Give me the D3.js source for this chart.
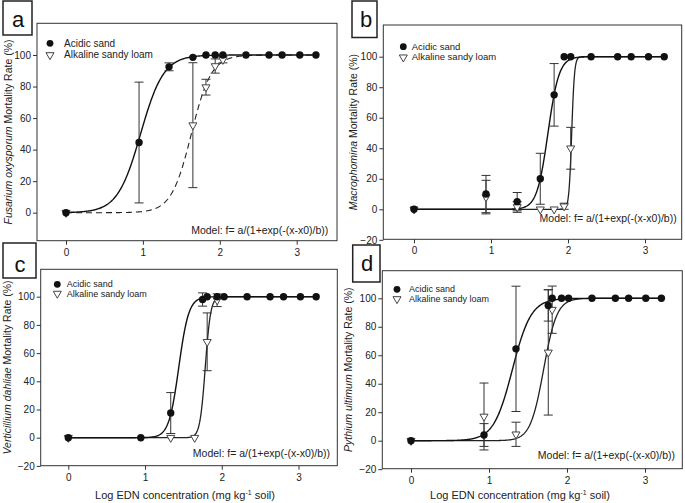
<!DOCTYPE html>
<html><head><meta charset="utf-8">
<script src="https://cdn.jsdelivr.net/npm/d3@7"></script>
<style>body{margin:0;background:#fff}svg{display:block}</style>
</head><body><svg id="chart" width="685" height="503"></svg>
<script>
// ---------- DATA ----------
const xTickValues = [0, 1, 2, 3];
const yTicksA = [0, 20, 40, 60, 80, 100];
const yTicksBCD = [-20, 0, 20, 40, 60, 80, 100];
const seriesNames = ["Acidic sand", "Alkaline sandy loam"];
const modelText = "Model: f= a/(1+exp(-(x-x0)/b))";

// Panel a – Fusarium oxysporum
const aAcidX = [0, 0.95, 1.34, 1.65, 1.82, 1.94, 2.04, 2.34, 2.64, 2.81, 3.04, 3.25];
const aAcidY = [0, 44.5, 92.5, 98.5, 100, 100, 100, 100, 100, 100, 100, 100];
const aAcidE = [0, 38.3, 2.5, 0, 0, 0, 0, 0, 0, 0, 0, 0];
const aAlkX = [0, 1.65, 1.82, 1.94, 2.04];
const aAlkY = [0, 55.5, 79.6, 93, 97];
const aAlkE = [0, 39.6, 5, 4.5, 2];
const aFitAcid = [100, 0.97, 0.15];   // a, x0, b
const aFitAlk = [100, 1.63, 0.13];

// Panel b – Macrophomina
const bAcidX = [0, 0.935, 1.34, 1.64, 1.82, 1.95, 2.035, 2.3, 2.645, 2.82, 3.045, 3.25];
const bAcidY = [0, 10, 5, 20, 75, 100, 100, 100, 100, 100, 100, 100];
const bAcidE = [0, 12.2, 6, 16.7, 20.5, 0, 0, 0, 0, 0, 0, 0];
const bAlkX = [0, 0.935, 1.34, 1.64, 1.82, 1.95, 2.035];
const bAlkY = [0, 8, 1.5, 0, 0, 2, 40];
const bAlkE = [0, 11, 3.5, 0, 0, 2, 13.7];
const bFitAcid = [100, 1.74, 0.072];
const bFitAlk = [100, 2.048, 0.018];

// Panel c – Verticillium dahliae
const cAcidX = [0, 0.945, 1.335, 1.75, 1.81, 1.94, 2.03, 2.33, 2.63, 2.805, 3.025, 3.23];
const cAcidY = [0, 0, 17.5, 98, 100, 100, 100, 100, 100, 100, 100, 100];
const cAcidE = [0, 0, 14.5, 4.7, 0, 0, 0, 0, 0, 0, 0, 0];
const cAlkX = [0, 1.335, 1.647, 1.81, 1.94];
const cAlkY = [0, 0, 0, 68, 97.5];
const cAlkE = [0, 0, 0, 20.5, 4.5];
const cFitAcid = [100, 1.44, 0.065];
const cFitAlk = [100, 1.785, 0.035];

// Panel d – Pythium ultimum
const dAcidX = [0, 0.936, 1.346, 1.76, 1.81, 1.93, 2.02, 2.32, 2.62, 2.79, 3.01, 3.21];
const dAcidY = [0, 4, 64.5, 95, 100, 100, 100, 100, 100, 100, 100, 100];
const dAcidE = [0, 8, 44, 11, 0, 0, 0, 0, 0, 0, 0, 0];
const dAlkX = [0, 0.936, 1.346, 1.76, 1.81];
const dAlkY = [0, 17, 4.5, 62, 92];
const dAlkE = [0, 23.5, 8.5, 44, 16.6];
const dFitAcid = [100, 1.30, 0.12];
const dFitAlk = [100, 1.70, 0.085];

// ---------- LAYOUT ----------
const panels = [
  {letter: "a", italic: "Fusarium oxysporum", acid: [aAcidX, aAcidY, aAcidE], alk: [aAlkX, aAlkY, aAlkE],
   fitAcid: aFitAcid, fitAlk: aFitAlk, dashedAlk: true, yTicks: yTicksA,
   frame: [37, 23.3, 337, 240.7], xr: [66, 296.7], yr: [212.7, 55],
   box: [3, 1, 29, 34], letterXY: [18, 27], leg: {cx: 50, tx: 64, y1: 43.3, y2: 55, fs: 10},
   model: [328.3, 234], titleX: 12, xTitle: null},
  {letter: "b", italic: "Macrophomina", acid: [bAcidX, bAcidY, bAcidE], alk: [bAlkX, bAlkY, bAlkE],
   fitAcid: bFitAcid, fitAlk: bFitAlk, dashedAlk: false, yTicks: yTicksBCD,
   frame: [383.3, 25, 681.7, 239.3], xr: [414, 645], yr: [209.3, 56.7],
   box: [352, 1, 25, 36.5], letterXY: [366, 27], leg: {cx: 403.3, tx: 411.7, y1: 46.7, y2: 57.3, fs: 9.5},
   model: [676.7, 222], titleX: 357, xTitle: null},
  {letter: "c", italic: "Verticillium dahliae", acid: [cAcidX, cAcidY, cAcidE], alk: [cAlkX, cAlkY, cAlkE],
   fitAcid: cFitAcid, fitAlk: cFitAlk, dashedAlk: false, yTicks: yTicksBCD,
   frame: [40.7, 269.3, 337.3, 465.7], xr: [68.3, 298.5], yr: [437.7, 296.7],
   box: [3, 243, 33, 35], letterXY: [20, 272], leg: {cx: 57.3, tx: 66.7, y1: 284.3, y2: 293.6, fs: 9},
   model: [330, 457], titleX: 11, xTitle: 185},
  {letter: "d", italic: "Pythium ultimum", acid: [dAcidX, dAcidY, dAcidE], alk: [dAlkX, dAlkY, dAlkE],
   fitAcid: dFitAcid, fitAlk: dFitAlk, dashedAlk: false, yTicks: yTicksBCD,
   frame: [382.3, 270.7, 682.3, 468.7], xr: [411, 645], yr: [440.7, 298.3],
   box: [352.7, 245, 27.3, 37], letterXY: [367, 271], leg: {cx: 397, tx: 409, y1: 289.3, y2: 299, fs: 9},
   model: [675, 459], titleX: 352, xTitle: 520}
];

const FONT = "'Liberation Sans', Arial, sans-serif";
const INK = "#222";
const svg = d3.select("#chart");
svg.append("rect").attr("width", 685).attr("height", 503).attr("fill", "#fff");

const logistic = (p) => (x) => p[0] / (1 + Math.exp(-(x - p[1]) / p[2]));
const triPath = d3.symbol().type(d3.symbolTriangle).size(28)();

panels.forEach(P => {
  const g = svg.append("g");
  const [fx0, fy0, fx1, fy1] = P.frame;
  const x = d3.scaleLinear().domain([0, 3]).range(P.xr);
  const y = d3.scaleLinear().domain([0, 100]).range(P.yr);

  // frame
  g.append("rect").attr("x", fx0).attr("y", fy0).attr("width", fx1 - fx0).attr("height", fy1 - fy0)
    .attr("fill", "none").attr("stroke", "#333").attr("stroke-width", 1);

  // axes
  const xa = g.append("g").attr("transform", `translate(0,${fy1})`)
    .call(d3.axisBottom(x).tickValues(xTickValues).tickSize(4).tickPadding(4).tickFormat(d3.format("d")));
  const ya = g.append("g").attr("transform", `translate(${fx0},0)`)
    .call(d3.axisLeft(y).tickValues(P.yTicks).tickSize(4).tickPadding(2).tickFormat(d3.format("d")));
  [xa, ya].forEach(a => {
    a.select(".domain").remove();
    a.selectAll("line").attr("stroke", "#333");
    a.selectAll("text").attr("font-family", FONT).attr("font-size", 10).attr("fill", INK);
  });

  // y title
  const cy = (fy0 + fy1) / 2;
  const yt = g.append("text").attr("transform", `translate(${P.titleX},${cy}) rotate(-90)`)
    .attr("text-anchor", "middle").attr("font-family", FONT).attr("font-size", 10.5).attr("fill", INK);
  yt.append("tspan").attr("font-style", "italic").text(P.italic);
  yt.append("tspan").text(" Mortality Rate (%)");

  // x title
  if (P.xTitle !== null) {
    const xt = g.append("text").attr("x", P.xTitle).attr("y", 499)
      .attr("text-anchor", "middle").attr("font-family", FONT).attr("font-size", 11).attr("fill", INK);
    xt.append("tspan").text("Log EDN concentration (mg kg");
    xt.append("tspan").attr("font-size", 7).attr("dy", -4).text("-1");
    xt.append("tspan").attr("dy", 4).text(" soil)");
  }

  // fitted curves
  const line = d3.line().x(d => x(d[0])).y(d => y(d[1]));
  const curve = (p, xmax) => d3.range(0, 401).map(i => { const xv = xmax * i / 400; return [xv, logistic(p)(xv)]; });
  const xmax = d3.max(P.acid[0]);
  g.append("path").attr("d", line(curve(P.fitAlk, xmax)))
    .attr("fill", "none").attr("stroke", "#222").attr("stroke-width", P.dashedAlk ? 1.1 : 1.3)
    .attr("stroke-dasharray", P.dashedAlk ? "6,4" : null);
  g.append("path").attr("d", line(curve(P.fitAcid, xmax)))
    .attr("fill", "none").attr("stroke", "#111").attr("stroke-width", 1.4);

  // error bars
  const drawErr = (s) => {
    const [xs, ys, es] = s;
    xs.forEach((xv, i) => {
      if (!es[i]) return;
      const px = x(xv), top = y(ys[i] + es[i]), bot = y(ys[i] - es[i]);
      g.append("line").attr("x1", px).attr("x2", px).attr("y1", top).attr("y2", bot).attr("stroke", "#333").attr("stroke-width", 1);
      [top, bot].forEach(yy => g.append("line").attr("x1", px - 4.5).attr("x2", px + 4.5).attr("y1", yy).attr("y2", yy)
        .attr("stroke", "#333").attr("stroke-width", 1));
    });
  };
  drawErr(P.alk); drawErr(P.acid);

  // markers
  P.alk[0].forEach((xv, i) => {
    g.append("path").attr("d", triPath).attr("transform", `translate(${x(xv)},${y(P.alk[1][i])}) rotate(180)`)
      .attr("fill", "#fff").attr("stroke", "#444").attr("stroke-width", 1);
  });
  P.acid[0].forEach((xv, i) => {
    g.append("circle").attr("cx", x(xv)).attr("cy", y(P.acid[1][i])).attr("r", 3.7).attr("fill", "#111");
  });

  // legend
  g.append("circle").attr("cx", P.leg.cx).attr("cy", P.leg.y1).attr("r", 3.4).attr("fill", "#111");
  g.append("path").attr("d", triPath).attr("transform", `translate(${P.leg.cx},${P.leg.y2}) rotate(180)`)
    .attr("fill", "#fff").attr("stroke", "#444").attr("stroke-width", 1);
  [P.leg.y1, P.leg.y2].forEach((ly, i) => g.append("text").attr("x", P.leg.tx).attr("y", ly + P.leg.fs * 0.33)
    .attr("font-family", FONT).attr("font-size", P.leg.fs).attr("fill", INK).text(seriesNames[i]));

  // model text
  g.append("text").attr("x", P.model[0]).attr("y", P.model[1]).attr("text-anchor", "end")
    .attr("font-family", FONT).attr("font-size", 10.5).attr("fill", INK).text(modelText);

  // panel letter box
  const [bx, by, bw, bh] = P.box;
  svg.append("rect").attr("x", bx).attr("y", by).attr("width", bw).attr("height", bh)
    .attr("fill", "#fff").attr("stroke", "#222").attr("stroke-width", 1.5);
  svg.append("text").attr("x", P.letterXY[0]).attr("y", P.letterXY[1]).attr("text-anchor", "middle")
    .attr("font-family", FONT).attr("font-size", 22).attr("fill", "#111").text(P.letter);
});
</script></body></html>
